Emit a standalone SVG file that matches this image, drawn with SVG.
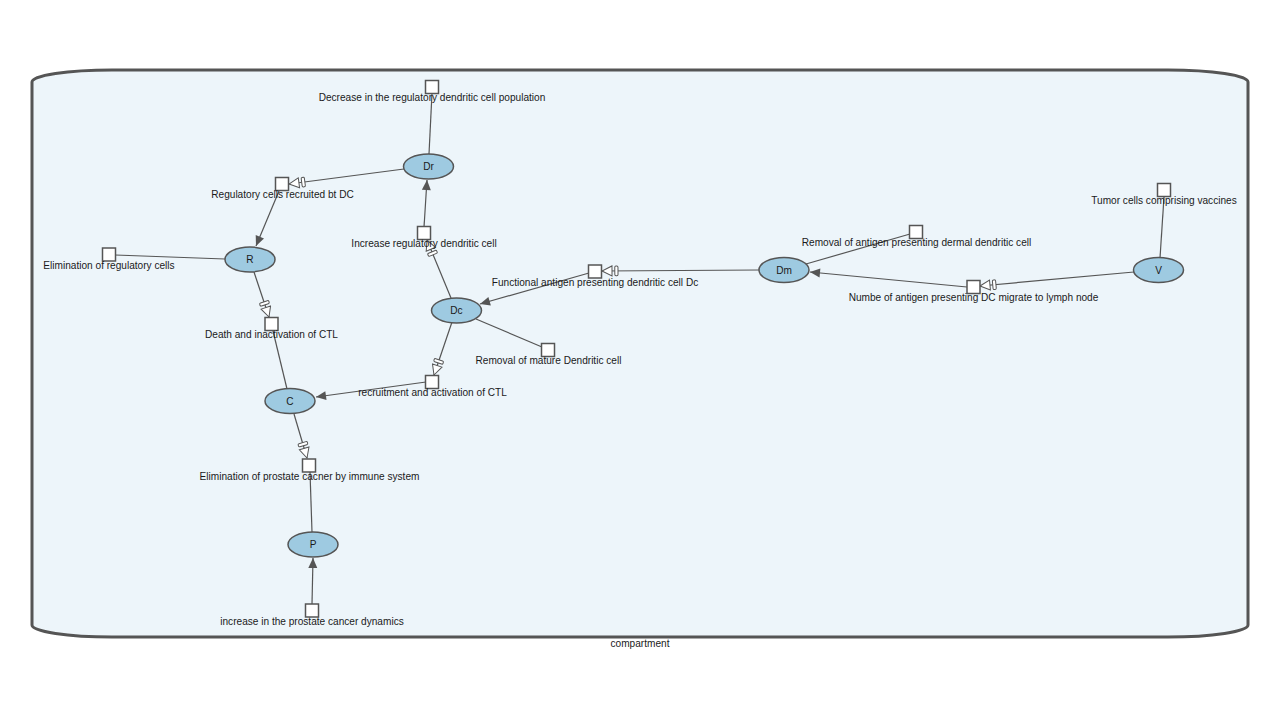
<svg xmlns="http://www.w3.org/2000/svg" width="1280" height="720" viewBox="0 0 1280 720">
<style>
text{font-family:"Liberation Sans",Arial,sans-serif;font-size:10.1px;fill:#1a1a1a;text-anchor:middle}
.sp ellipse{fill:#9ecae1;stroke:#555;stroke-width:1.5}
.pr rect{fill:#fff;stroke:#555;stroke-width:1.5}
.e{stroke:#555;stroke-width:1.2;fill:none}
.prod{marker-end:url(#prod)}
.mod{marker-end:url(#mod)}
</style>
<defs>
<marker id="prod" markerUnits="userSpaceOnUse" markerWidth="12" markerHeight="10" viewBox="0 0 12 10" refX="11" refY="5" orient="auto">
<path d="M1,0.5 L11,5 L1,9.5 Z" fill="#555"/>
</marker>
<marker id="mod" markerUnits="userSpaceOnUse" markerWidth="18" markerHeight="12" viewBox="0 0 18 12" refX="17" refY="6" orient="auto">
<path d="M17,6 L7,1 L7,11 Z" fill="#fff" stroke="#555" stroke-width="1"/>
<rect x="1" y="1.2" width="3.2" height="9.6" rx="1.2" fill="#fff" stroke="#555" stroke-width="1"/>
</marker>
</defs>
<g id="compartment">
<path d="M112,70 H1168 A80,12 0 0 1 1248,82 V625 A80,12 0 0 1 1168,637 H112 A80,12 0 0 1 32,625 V82 A80,12 0 0 1 112,70 Z" fill="#edf5fa" stroke="#555" stroke-width="3"/>
<text x="640" y="647">compartment</text>
</g>
<g id="connectors">
<line class="e" x1="432" y1="93" x2="429" y2="154"/>
<line class="e mod" x1="404" y1="169" x2="289" y2="184"/>
<line class="e prod" x1="279" y1="191" x2="256" y2="246"/>
<line class="e" x1="225" y1="259" x2="115" y2="255"/>
<line class="e mod" x1="254" y1="272" x2="269" y2="317"/>
<line class="e" x1="273" y1="331" x2="287" y2="389"/>
<line class="e mod" x1="451" y1="298" x2="427" y2="240"/>
<line class="e prod" x1="424" y1="227" x2="427" y2="180"/>
<line class="e prod" x1="589" y1="273" x2="480" y2="304"/>
<line class="e mod" x1="759" y1="270" x2="602" y2="271"/>
<line class="e" x1="476" y1="319" x2="542" y2="347"/>
<line class="e mod" x1="452" y1="322" x2="434" y2="375"/>
<line class="e prod" x1="426" y1="382" x2="316" y2="397"/>
<line class="e" x1="806" y1="264" x2="910" y2="234"/>
<line class="e prod" x1="967" y1="287" x2="810" y2="272"/>
<line class="e mod" x1="1134" y1="272" x2="980" y2="286"/>
<line class="e" x1="1164" y1="197" x2="1160" y2="258"/>
<line class="e mod" x1="294" y1="414" x2="307" y2="458"/>
<line class="e" x1="310" y1="472" x2="312" y2="532"/>
<line class="e prod" x1="312" y1="604" x2="313" y2="558"/>
</g>
<g id="node-Dr" class="sp"><ellipse cx="428.5" cy="166.5" rx="25" ry="12.5"/><text x="428.5" y="170">Dr</text></g>
<g id="node-R" class="sp"><ellipse cx="250" cy="259.5" rx="25" ry="12.5"/><text x="250" y="263">R</text></g>
<g id="node-Dc" class="sp"><ellipse cx="456.5" cy="310.5" rx="25" ry="12.5"/><text x="456.5" y="314">Dc</text></g>
<g id="node-Dm" class="sp"><ellipse cx="784" cy="270" rx="25" ry="12.5"/><text x="784" y="273.5">Dm</text></g>
<g id="node-V" class="sp"><ellipse cx="1158.5" cy="270" rx="25" ry="12.5"/><text x="1158.5" y="273.5">V</text></g>
<g id="node-C" class="sp"><ellipse cx="290" cy="401" rx="25" ry="12.5"/><text x="290" y="404.5">C</text></g>
<g id="node-P" class="sp"><ellipse cx="313" cy="544.5" rx="25" ry="12.5"/><text x="313" y="548">P</text></g>
<g id="p-decrease" class="pr"><rect x="425.5" y="80.5" width="13" height="13"/><text x="432" y="101">Decrease in the regulatory dendritic cell population</text></g>
<g id="p-regrecruit" class="pr"><rect x="275.5" y="177.5" width="13" height="13"/><text x="282.5" y="198">Regulatory cells recruited bt DC</text></g>
<g id="p-increasereg" class="pr"><rect x="417.5" y="226.5" width="13" height="13"/><text x="424" y="247">Increase regulatory dendritic cell</text></g>
<g id="p-elimreg" class="pr"><rect x="102.5" y="248" width="13" height="13"/><text x="109" y="269">Elimination of regulatory cells</text></g>
<g id="p-death" class="pr"><rect x="265" y="317.5" width="13" height="13"/><text x="271.5" y="338">Death and inactivation of CTL</text></g>
<g id="p-functional" class="pr"><rect x="588.5" y="265" width="13" height="13"/><text x="595" y="286">Functional antigen presenting dendritic cell Dc</text></g>
<g id="p-removaldermal" class="pr"><rect x="909.5" y="225.5" width="13" height="13"/><text x="916.5" y="246">Removal of antigen presenting dermal dendritic cell</text></g>
<g id="p-numbe" class="pr"><rect x="967" y="280.5" width="13" height="13"/><text x="973.5" y="301">Numbe of antigen presenting DC migrate to lymph node</text></g>
<g id="p-tumor" class="pr"><rect x="1157.5" y="183.5" width="13" height="13"/><text x="1164" y="204">Tumor cells comprising vaccines</text></g>
<g id="p-removalmature" class="pr"><rect x="541.5" y="343.5" width="13" height="13"/><text x="548.5" y="364">Removal of mature Dendritic cell</text></g>
<g id="p-recruitment" class="pr"><rect x="425.5" y="375.5" width="13" height="13"/><text x="432.5" y="396">recruitment and activation of CTL</text></g>
<g id="p-elimprostate" class="pr"><rect x="302.5" y="459" width="13" height="13"/><text x="309.5" y="480">Elimination of prostate cacner by immune system</text></g>
<g id="p-increaseprostate" class="pr"><rect x="305.5" y="604" width="13" height="13"/><text x="312" y="625">increase in the prostate cancer dynamics</text></g>
</svg>
